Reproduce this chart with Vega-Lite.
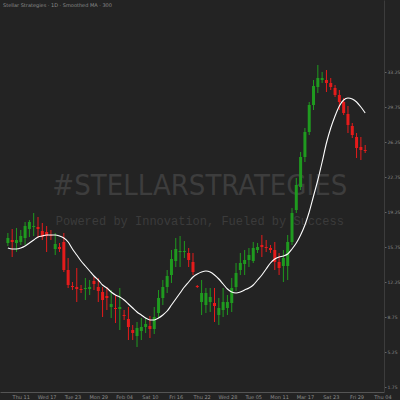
{
 "$schema": "https://vega.github.io/schema/vega-lite/v6.json",
 "width": 384, "height": 392,
 "autosize": {"type": "none"},
 "padding": {"left": 0, "top": 0, "right": 16, "bottom": 8},
 "background": "#232323",
 "title": {"text": "Stellar Strategies · 1D · Smoothed MA · 300", "anchor": "start", "frame": "group", "offset": -8, "fontSize": 5, "font": "DejaVu Sans", "fontWeight": "normal", "color": "#8a8a8a", "dx": 3},
 "config": {"view": {"stroke": null}},
 "data": {"values": [
  {"date":"2024-01-08","o":16.18,"h":17.18,"l":15.88,"c":16.68,"ma":15.68},
  {"date":"2024-01-09","o":16.48,"h":17.58,"l":14.78,"c":16.28,"ma":15.58},
  {"date":"2024-01-10","o":16.18,"h":17.68,"l":15.28,"c":16.48,"ma":15.58},
  {"date":"2024-01-11","o":16.28,"h":17.48,"l":15.98,"c":16.88,"ma":15.68},
  {"date":"2024-01-12","o":16.68,"h":18.28,"l":15.98,"c":17.88,"ma":15.88},
  {"date":"2024-01-13","o":17.58,"h":18.48,"l":16.78,"c":18.28,"ma":16.18},
  {"date":"2024-01-14","o":17.78,"h":19.18,"l":16.88,"c":17.88,"ma":16.48},
  {"date":"2024-01-15","o":17.78,"h":18.78,"l":16.68,"c":17.58,"ma":16.78},
  {"date":"2024-01-16","o":17.38,"h":18.18,"l":16.48,"c":16.78,"ma":16.88},
  {"date":"2024-01-17","o":17.28,"h":17.88,"l":15.28,"c":16.88,"ma":16.98},
  {"date":"2024-01-18","o":16.98,"h":17.48,"l":16.48,"c":16.88,"ma":16.98},
  {"date":"2024-01-19","o":15.58,"h":17.18,"l":14.98,"c":16.08,"ma":16.98},
  {"date":"2024-01-20","o":15.78,"h":16.18,"l":15.28,"c":15.58,"ma":16.88},
  {"date":"2024-01-21","o":16.28,"h":17.18,"l":13.28,"c":13.48,"ma":16.68},
  {"date":"2024-01-22","o":13.48,"h":14.68,"l":11.68,"c":11.98,"ma":16.28},
  {"date":"2024-01-23","o":11.88,"h":12.28,"l":11.48,"c":11.78,"ma":15.58},
  {"date":"2024-01-24","o":11.78,"h":13.68,"l":10.28,"c":11.58,"ma":14.98},
  {"date":"2024-01-25","o":11.58,"h":11.98,"l":11.18,"c":11.48,"ma":14.38},
  {"date":"2024-01-26","o":11.58,"h":12.68,"l":10.48,"c":11.68,"ma":13.88},
  {"date":"2024-01-27","o":11.58,"h":12.48,"l":10.98,"c":11.78,"ma":13.38},
  {"date":"2024-01-28","o":12.38,"h":12.78,"l":11.48,"c":12.08,"ma":12.88},
  {"date":"2024-01-29","o":11.78,"h":12.68,"l":10.28,"c":11.38,"ma":12.48},
  {"date":"2024-01-30","o":11.28,"h":11.78,"l":8.78,"c":10.48,"ma":11.98},
  {"date":"2024-01-31","o":10.88,"h":11.78,"l":9.48,"c":10.68,"ma":11.68},
  {"date":"2024-02-01","o":9.78,"h":11.48,"l":8.68,"c":10.08,"ma":11.28},
  {"date":"2024-02-02","o":9.68,"h":10.98,"l":8.18,"c":9.58,"ma":10.98},
  {"date":"2024-02-03","o":9.58,"h":11.68,"l":7.48,"c":9.78,"ma":10.78},
  {"date":"2024-02-04","o":8.98,"h":9.48,"l":8.48,"c":8.88,"ma":10.48},
  {"date":"2024-02-05","o":8.58,"h":9.78,"l":6.48,"c":7.78,"ma":10.08},
  {"date":"2024-02-06","o":7.48,"h":7.98,"l":6.48,"c":7.18,"ma":9.68},
  {"date":"2024-02-07","o":6.88,"h":8.28,"l":5.78,"c":7.68,"ma":9.28},
  {"date":"2024-02-08","o":7.38,"h":8.68,"l":6.48,"c":7.78,"ma":8.98},
  {"date":"2024-02-09","o":7.78,"h":8.68,"l":7.18,"c":8.08,"ma":8.68},
  {"date":"2024-02-10","o":7.88,"h":8.88,"l":6.68,"c":7.58,"ma":8.48},
  {"date":"2024-02-11","o":7.58,"h":9.78,"l":7.08,"c":8.78,"ma":8.48},
  {"date":"2024-02-12","o":9.18,"h":11.48,"l":8.68,"c":10.68,"ma":8.68},
  {"date":"2024-02-13","o":10.68,"h":12.48,"l":9.98,"c":11.78,"ma":8.98},
  {"date":"2024-02-14","o":11.78,"h":13.48,"l":11.18,"c":12.88,"ma":9.38},
  {"date":"2024-02-15","o":12.98,"h":15.48,"l":12.18,"c":14.58,"ma":9.98},
  {"date":"2024-02-16","o":14.38,"h":16.68,"l":13.78,"c":15.58,"ma":10.58},
  {"date":"2024-02-17","o":15.28,"h":16.88,"l":13.78,"c":15.38,"ma":11.18},
  {"date":"2024-02-18","o":15.28,"h":16.38,"l":14.68,"c":15.38,"ma":11.78},
  {"date":"2024-02-19","o":15.18,"h":15.68,"l":13.78,"c":14.48,"ma":12.28},
  {"date":"2024-02-20","o":14.28,"h":15.18,"l":12.98,"c":13.28,"ma":12.78},
  {"date":"2024-02-21","o":11.88,"h":11.98,"l":11.68,"c":11.78,"ma":13.08},
  {"date":"2024-02-22","o":10.28,"h":12.48,"l":8.98,"c":11.18,"ma":13.28},
  {"date":"2024-02-23","o":9.98,"h":11.68,"l":9.18,"c":11.18,"ma":13.38},
  {"date":"2024-02-24","o":10.28,"h":11.68,"l":9.28,"c":10.78,"ma":13.28},
  {"date":"2024-02-25","o":10.18,"h":11.68,"l":8.28,"c":9.88,"ma":12.98},
  {"date":"2024-02-26","o":8.98,"h":10.68,"l":7.98,"c":9.68,"ma":12.58},
  {"date":"2024-02-27","o":9.48,"h":11.68,"l":8.78,"c":10.28,"ma":12.08},
  {"date":"2024-02-28","o":9.68,"h":10.98,"l":8.98,"c":10.28,"ma":11.58},
  {"date":"2024-02-29","o":10.18,"h":12.68,"l":9.28,"c":11.68,"ma":11.28},
  {"date":"2024-03-01","o":11.78,"h":14.18,"l":11.38,"c":13.18,"ma":11.18},
  {"date":"2024-03-02","o":13.48,"h":15.18,"l":12.98,"c":14.18,"ma":11.28},
  {"date":"2024-03-03","o":14.08,"h":15.48,"l":12.98,"c":14.48,"ma":11.48},
  {"date":"2024-03-04","o":14.48,"h":15.68,"l":13.78,"c":14.98,"ma":11.68},
  {"date":"2024-03-05","o":14.38,"h":16.28,"l":14.18,"c":15.68,"ma":11.98},
  {"date":"2024-03-06","o":15.48,"h":16.18,"l":15.18,"c":15.78,"ma":12.48},
  {"date":"2024-03-07","o":15.98,"h":16.98,"l":14.78,"c":15.78,"ma":12.98},
  {"date":"2024-03-08","o":15.78,"h":16.48,"l":15.28,"c":15.68,"ma":13.58},
  {"date":"2024-03-09","o":15.68,"h":15.98,"l":15.18,"c":15.48,"ma":14.18},
  {"date":"2024-03-10","o":15.48,"h":16.28,"l":13.48,"c":14.28,"ma":14.58},
  {"date":"2024-03-11","o":14.28,"h":15.18,"l":12.98,"c":13.68,"ma":14.78},
  {"date":"2024-03-12","o":13.88,"h":15.48,"l":12.28,"c":14.68,"ma":14.88},
  {"date":"2024-03-13","o":13.88,"h":16.98,"l":12.48,"c":16.28,"ma":15.08},
  {"date":"2024-03-14","o":16.28,"h":19.68,"l":15.98,"c":19.18,"ma":15.58},
  {"date":"2024-03-15","o":19.48,"h":22.68,"l":19.18,"c":21.98,"ma":16.18},
  {"date":"2024-03-16","o":21.78,"h":25.28,"l":21.48,"c":24.78,"ma":16.98},
  {"date":"2024-03-17","o":24.78,"h":27.68,"l":24.28,"c":27.28,"ma":17.98},
  {"date":"2024-03-18","o":27.28,"h":30.28,"l":26.98,"c":29.98,"ma":19.28},
  {"date":"2024-03-19","o":29.98,"h":32.48,"l":29.48,"c":31.88,"ma":20.88},
  {"date":"2024-03-20","o":31.78,"h":33.98,"l":31.18,"c":32.68,"ma":22.48},
  {"date":"2024-03-21","o":32.48,"h":33.28,"l":32.18,"c":32.68,"ma":24.28},
  {"date":"2024-03-22","o":32.48,"h":33.48,"l":31.28,"c":32.18,"ma":26.18},
  {"date":"2024-03-23","o":32.18,"h":32.68,"l":31.48,"c":31.78,"ma":27.68},
  {"date":"2024-03-24","o":31.68,"h":31.98,"l":30.78,"c":30.98,"ma":28.88},
  {"date":"2024-03-25","o":30.98,"h":31.48,"l":29.48,"c":30.28,"ma":29.88},
  {"date":"2024-03-26","o":30.28,"h":30.68,"l":28.98,"c":29.18,"ma":30.48},
  {"date":"2024-03-27","o":29.08,"h":29.88,"l":27.18,"c":27.98,"ma":30.68},
  {"date":"2024-03-28","o":27.88,"h":28.18,"l":26.68,"c":26.98,"ma":30.58},
  {"date":"2024-03-29","o":26.78,"h":27.18,"l":24.68,"c":25.68,"ma":30.28},
  {"date":"2024-03-30","o":25.78,"h":26.78,"l":24.48,"c":25.48,"ma":29.78},
  {"date":"2024-03-31","o":25.48,"h":25.98,"l":25.18,"c":25.38,"ma":29.18}
 ]},
 "encoding": {
  "x": {"field": "date", "type": "temporal",
   "scale": {"type": "utc", "domain": [{"year": 2024, "month": 1, "date": 7, "hours": 8, "utc": true}, {"year": 2024, "month": 4, "date": 3, "hours": 5, "utc": true}]},
   "axis": {"title": null, "grid": false, "ticks": false, "labelFontSize": 5, "labelFont": "DejaVu Sans", "labelColor": "#8c8c8c", "labelPadding": 2, "labelOverlap": false, "labelFlush": false, "domainColor": "#555555", "domainWidth": 1,
    "values": [
     {"year": 2024, "month": 1, "date": 11, "utc": true},
     {"year": 2024, "month": 1, "date": 17, "utc": true},
     {"year": 2024, "month": 1, "date": 23, "utc": true},
     {"year": 2024, "month": 1, "date": 29, "utc": true},
     {"year": 2024, "month": 2, "date": 4, "utc": true},
     {"year": 2024, "month": 2, "date": 10, "utc": true},
     {"year": 2024, "month": 2, "date": 16, "utc": true},
     {"year": 2024, "month": 2, "date": 22, "utc": true},
     {"year": 2024, "month": 2, "date": 28, "utc": true},
     {"year": 2024, "month": 3, "date": 5, "utc": true},
     {"year": 2024, "month": 3, "date": 11, "utc": true},
     {"year": 2024, "month": 3, "date": 17, "utc": true},
     {"year": 2024, "month": 3, "date": 23, "utc": true},
     {"year": 2024, "month": 3, "date": 29, "utc": true},
     {"year": 2024, "month": 4, "date": 4, "utc": true}
    ]}}
 },
 "layer": [
  {
   "data": {"values": [{"t": "#STELLARSTRATEGIES", "date": "2024-02-21T14:00:00Z", "p": 21.0}]},
   "mark": {"type": "text", "font": "DejaVu Sans Condensed", "fontSize": 29, "color": "#3d3d3d", "align": "center", "baseline": "alphabetic"},
   "encoding": {
    "y": {"field": "p", "type": "quantitative"},
    "text": {"field": "t", "type": "nominal"}
   }
  },
  {
   "data": {"values": [{"t": "Powered by Innovation, Fueled by Success", "date": "2024-02-21T14:00:00Z", "p": 17.98}]},
   "mark": {"type": "text", "font": "Liberation Mono", "fontSize": 12, "color": "#3b3b3b", "align": "center", "baseline": "alphabetic"},
   "encoding": {
    "y": {"field": "p", "type": "quantitative"},
    "text": {"field": "t", "type": "nominal"}
   }
  },
  {
   "mark": {"type": "rule", "strokeWidth": 1},
   "encoding": {
    "y": {"field": "l", "type": "quantitative",
     "scale": {"domain": [1.28, 40.48], "nice": false, "zero": false},
     "axis": {"orient": "right", "title": null, "grid": false, "format": ".2f", "labelFontSize": 4.5, "labelFont": "DejaVu Sans", "labelColor": "#8c8c8c", "labelPadding": 1, "tickSize": 2, "tickColor": "#666666", "domainColor": "#3c3c3c",
      "values": [1.75, 3.5, 5.25, 7, 8.75, 10.5, 12.25, 14, 15.75, 17.5, 19.25, 21, 22.75, 24.5, 26.25, 28, 29.75, 31.5, 33.25, 35]}},
    "y2": {"field": "h"},
    "color": {"condition": {"test": "datum.c >= datum.o", "value": "#1f9a1f"}, "value": "#e51b1b"}
   }
  },
  {
   "mark": {"type": "bar", "size": 3},
   "encoding": {
    "y": {"field": "o", "type": "quantitative"},
    "y2": {"field": "c"},
    "color": {"condition": {"test": "datum.c >= datum.o", "value": "#1f9a1f"}, "value": "#e51b1b"}
   }
  },
  {
   "mark": {"type": "line", "color": "#ffffff", "strokeWidth": 1.1, "interpolate": "monotone"},
   "encoding": {
    "y": {"field": "ma", "type": "quantitative"}
   }
  }
 ]
}
